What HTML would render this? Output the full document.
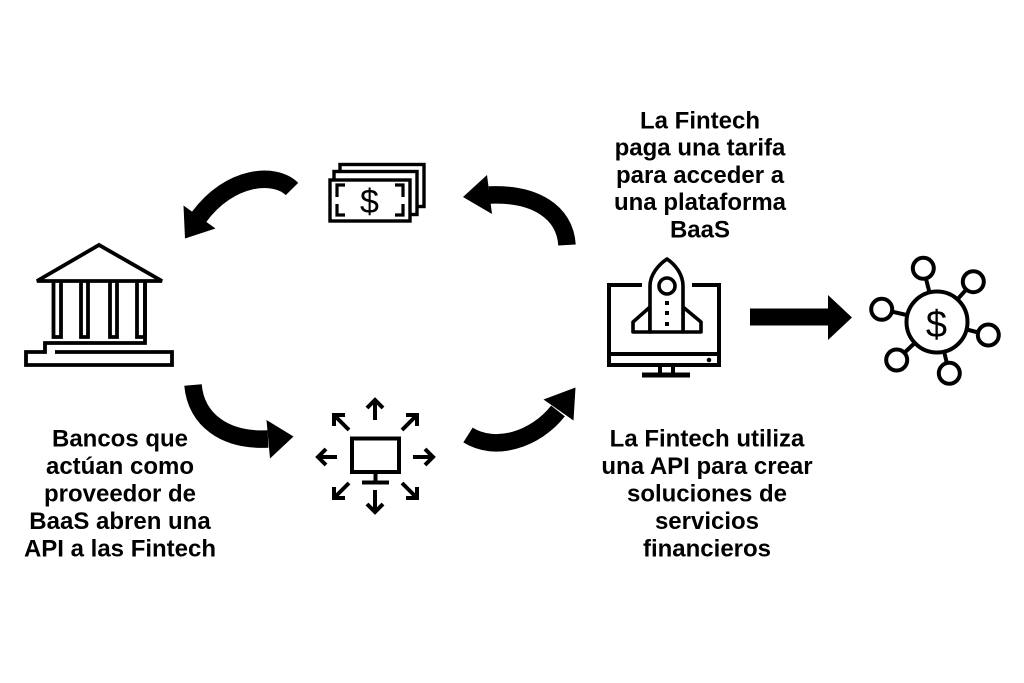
<!DOCTYPE html>
<html>
<head>
<meta charset="utf-8">
<style>
  html,body{margin:0;padding:0;background:#fff;}
  body{width:1024px;height:683px;overflow:hidden;}
  svg{display:block;}
  text{font-family:"Liberation Sans", Arial, sans-serif;}
</style>
</head>
<body>
<svg width="1024" height="683" viewBox="0 0 1024 683" xmlns="http://www.w3.org/2000/svg">
  <rect x="0" y="0" width="1024" height="683" fill="#fff"/>

  <!-- ===== Bank icon ===== -->
  <g fill="none" stroke="#000" stroke-width="3.8" stroke-miterlimit="2.5">
    <polygon points="37,281 99,245 162,281"/>
    <path d="M53.5,281 V337 H61 V281 M81,281 V337 H88 V281 M110,281 V337 H117 V281 M137,281 V337 H145 V281"/>
    <path d="M145,281 V343 H45 V352 H26 V365 H172 V352 H55"/>
  </g>

  <!-- ===== Money icon ===== -->
  <g stroke="#000" stroke-width="3.4" fill="#fff">
    <rect x="340" y="164.5" width="84" height="42"/>
    <rect x="334" y="171.5" width="83" height="43"/>
    <rect x="330" y="180" width="80" height="41"/>
  </g>
  <g fill="none" stroke="#000" stroke-width="3.2">
    <path d="M345,185 H337 V197"/>
    <path d="M395,185 H403 V197"/>
    <path d="M337,204 V215 H345"/>
    <path d="M403,204 V215 H395"/>
  </g>
  <text x="369.5" y="213" font-size="34" text-anchor="middle" fill="#000">$</text>

  <!-- ===== Curved arrows ===== -->
  <g fill="none" stroke="#000" stroke-width="17.5" stroke-linecap="butt">
    <path d="M292,189 C275,172 230,175 199,217"/>
    <path d="M567,245 C565,212 535,193 489,195"/>
    <path d="M193,385 C196,420 225,441 268,439"/>
    <path d="M468,435 C495,452 535,440 558,411"/>
  </g>
  <g fill="#000">
    <polygon points="183.5,205.5 215.5,228.5 185,238.5"/>
    <polygon points="487,175 492,214 463,197"/>
    <polygon points="266.5,420 293.5,436.5 270,458.5"/>
    <polygon points="543.5,399.5 573.5,420.5 575.5,387.5"/>
  </g>

  <!-- ===== API monitor with arrows ===== -->
  <g fill="none" stroke="#000" stroke-width="4">
    <rect x="352" y="438.5" width="47" height="33.5"/>
    <path d="M375.5,474 V481"/>
    <path d="M362,482.5 H389"/>
    <!-- up -->
    <path d="M375,420 V401"/>
    <path d="M367,408 L375,400 L383,408"/>
    <!-- down -->
    <path d="M375,490 V511"/>
    <path d="M367,504 L375,512 L383,504"/>
    <!-- left -->
    <path d="M337,457 H319"/>
    <path d="M326,449 L318,457 L326,465"/>
    <!-- right -->
    <path d="M413,457 H432"/>
    <path d="M425,449 L433,457 L425,465"/>
    <!-- diagonals -->
    <path d="M334,426 V415 H345"/>
    <path d="M335,416 L349,430"/>
    <path d="M406,415 H417 V426"/>
    <path d="M416,416 L402,430"/>
    <path d="M334,487 V498 H345"/>
    <path d="M335,497 L349,483"/>
    <path d="M406,498 H417 V487"/>
    <path d="M416,497 L402,483"/>
  </g>

  <!-- ===== Rocket monitor ===== -->
  <g fill="none" stroke="#000" stroke-width="4">
    <path d="M642,285 H609 V365 H719 V285 H692"/>
    <path d="M609,354 H719"/>
    <path d="M660,367 V374 M673,367 V374"/>
  </g>
  <rect x="642" y="372.5" width="48" height="5" fill="#000"/>
  <circle cx="709" cy="360" r="2.3" fill="#000"/>
  <g fill="#fff" stroke="#000" stroke-width="3.6" stroke-linejoin="round">
    <path d="M650,307 L633,322 V332 H650 Z"/>
    <path d="M683,307 L701,322 V332 H683 Z"/>
    <path d="M650,332 V286 C650,275 658,265 667,259 C676,265 683,275 683,286 V332 Z"/>
    <circle cx="667" cy="286" r="8"/>
  </g>
  <g fill="#000">
    <rect x="665" y="301" width="4" height="4"/>
    <rect x="665" y="311" width="4" height="4"/>
    <rect x="665" y="322" width="4" height="4"/>
  </g>

  <!-- ===== Straight arrow ===== -->
  <rect x="750" y="308.5" width="80" height="17" fill="#000"/>
  <polygon points="828,295 852,317.5 828,340" fill="#000"/>

  <!-- ===== Network dollar icon ===== -->
  <g stroke="#000" stroke-width="4">
    <line x1="937" y1="322" x2="923.3" y2="268.3"/>
    <line x1="937" y1="322" x2="973.3" y2="281.7"/>
    <line x1="937" y1="322" x2="881.7" y2="309.3"/>
    <line x1="937" y1="322" x2="988.3" y2="335"/>
    <line x1="937" y1="322" x2="896.7" y2="360"/>
    <line x1="937" y1="322" x2="949.3" y2="373.3"/>
  </g>
  <g fill="#fff" stroke="#000" stroke-width="4">
    <circle cx="937" cy="322" r="30.5"/>
    <circle cx="923.3" cy="268.3" r="10.5"/>
    <circle cx="973.3" cy="281.7" r="10.5"/>
    <circle cx="881.7" cy="309.3" r="10.5"/>
    <circle cx="988.3" cy="335" r="10.5"/>
    <circle cx="896.7" cy="360" r="10.5"/>
    <circle cx="949.3" cy="373.3" r="10.5"/>
  </g>
  <text x="936.5" y="337" font-size="38" text-anchor="middle" fill="#000">$</text>

  <!-- ===== Labels ===== -->
  <g font-size="24" font-weight="bold" fill="#000" text-anchor="middle">
    <text x="700" y="128.3">La Fintech</text>
    <text x="700" y="155.5">paga una tarifa</text>
    <text x="700" y="182.8">para acceder a</text>
    <text x="700" y="210">una plataforma</text>
    <text x="700" y="237.3">BaaS</text>

    <text x="120" y="446.7">Bancos que</text>
    <text x="120" y="474.2">actúan como</text>
    <text x="120" y="501.7">proveedor de</text>
    <text x="120" y="529.2">BaaS abren una</text>
    <text x="120" y="556.7">API a las Fintech</text>

    <text x="707" y="446.7">La Fintech utiliza</text>
    <text x="707" y="474.2">una API para crear</text>
    <text x="707" y="501.7">soluciones de</text>
    <text x="707" y="529.2">servicios</text>
    <text x="707" y="556.7">financieros</text>
  </g>
</svg>
</body>
</html>
